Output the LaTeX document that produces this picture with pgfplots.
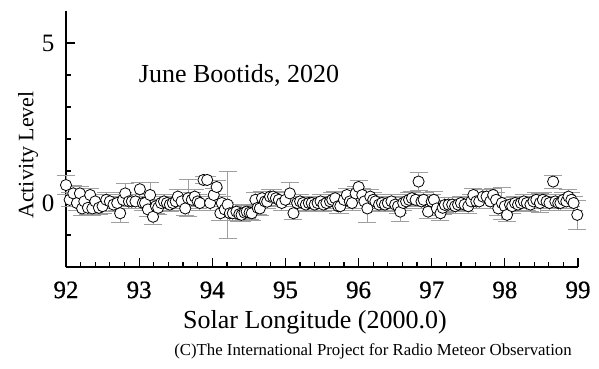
\documentclass[border=0pt]{standalone}
\usepackage{fontspec}
\setmainfont{Liberation Serif}
\newfontfamily\tickfont[FakeBold=0.7]{Liberation Serif}
\usepackage{pgfplots}
\usepackage{pgfplotstable}
\pgfplotsset{compat=1.18}
\pgfplotstableread{
x y e
92.00 0.56 0.30
92.05 0.10 0.22
92.10 0.30 0.25
92.15 0.00 0.22
92.19 0.30 0.22
92.22 -0.17 0.22
92.25 0.05 0.22
92.30 -0.15 0.22
92.33 0.25 0.22
92.36 -0.17 0.22
92.40 0.05 0.22
92.45 -0.15 0.22
92.50 -0.10 0.22
92.55 0.10 0.22
92.60 0.05 0.22
92.65 -0.05 0.22
92.70 0.00 0.22
92.74 -0.32 0.30
92.78 0.10 0.22
92.81 0.30 0.32
92.86 0.05 0.22
92.90 0.05 0.22
92.95 0.05 0.22
93.01 0.43 0.22
93.05 0.00 0.22
93.08 0.00 0.22
93.12 -0.20 0.22
93.15 0.25 0.38
93.19 -0.43 0.25
93.23 -0.10 0.22
93.26 -0.15 0.22
93.30 0.00 0.22
93.34 0.05 0.22
93.38 0.00 0.22
93.42 -0.05 0.22
93.46 0.00 0.22
93.50 0.05 0.22
93.53 0.20 0.22
93.58 0.05 0.22
93.63 -0.17 0.22
93.67 0.15 0.58
93.72 0.10 0.22
93.76 0.20 0.22
93.80 0.05 0.22
93.83 0.00 0.22
93.88 0.72 0.10
93.93 0.72 0.10
93.97 0.00 0.22
94.02 0.25 0.22
94.06 0.50 0.22
94.11 -0.32 0.22
94.13 0.00 0.22
94.17 -0.20 0.22
94.21 -0.05 1.05
94.24 -0.32 0.22
94.28 -0.32 0.22
94.33 -0.27 0.22
94.37 -0.35 0.22
94.40 -0.37 0.22
94.44 -0.30 0.22
94.47 -0.27 0.22
94.51 -0.30 0.22
94.54 -0.32 0.22
94.59 0.10 0.22
94.62 -0.15 0.22
94.65 -0.17 0.22
94.68 0.15 0.22
94.72 0.05 0.22
94.75 0.04 0.22
94.79 0.20 0.22
94.83 0.20 0.22
94.87 0.15 0.22
94.91 0.10 0.22
94.95 0.00 0.22
95.00 0.10 0.22
95.06 0.30 0.35
95.11 -0.32 0.20
95.16 0.00 0.22
95.20 0.05 0.22
95.24 0.00 0.22
95.28 -0.05 0.22
95.32 0.00 0.22
95.36 0.00 0.22
95.40 -0.05 0.22
95.44 0.00 0.22
95.48 0.05 0.22
95.52 -0.05 0.22
95.56 0.00 0.22
95.61 0.05 0.22
95.64 0.10 0.22
95.68 0.15 0.22
95.72 -0.10 0.22
95.75 -0.10 0.22
95.80 0.10 0.22
95.84 0.25 0.22
95.88 0.05 0.22
95.91 0.00 0.22
95.96 0.30 0.22
96.00 0.50 0.22
96.05 0.25 0.22
96.08 0.05 0.22
96.12 -0.17 0.45
96.16 0.20 0.22
96.20 0.10 0.22
96.23 0.05 0.22
96.28 -0.05 0.22
96.32 0.00 0.22
96.36 -0.05 0.22
96.40 0.00 0.22
96.45 0.05 0.22
96.50 -0.05 0.22
96.54 -0.10 0.22
96.57 -0.27 0.30
96.61 0.00 0.22
96.65 0.05 0.22
96.69 0.10 0.22
96.73 0.15 0.22
96.78 0.10 0.22
96.82 0.67 0.27
96.86 0.05 0.22
96.89 0.10 0.22
96.95 -0.27 0.22
97.00 0.05 0.22
97.03 0.10 0.25
97.07 -0.17 0.22
97.12 -0.32 0.22
97.15 -0.15 0.22
97.18 -0.06 0.22
97.23 -0.05 0.22
97.28 -0.05 0.22
97.32 -0.10 0.22
97.36 -0.05 0.22
97.40 0.00 0.22
97.45 -0.05 0.22
97.50 -0.10 0.22
97.54 0.05 0.22
97.57 0.25 0.22
97.61 0.05 0.22
97.65 0.05 0.22
97.70 0.20 0.22
97.75 0.20 0.22
97.80 0.05 0.22
97.84 0.25 0.22
97.88 0.10 0.22
97.91 -0.17 0.22
97.96 0.00 0.50
98.00 -0.10 0.22
98.03 -0.37 0.20
98.07 -0.05 0.22
98.10 -0.10 0.22
98.14 0.00 0.22
98.18 -0.05 0.22
98.22 0.00 0.22
98.26 0.05 0.22
98.30 0.00 0.22
98.35 -0.05 0.22
98.39 0.05 0.22
98.43 0.10 0.22
98.48 0.00 0.30
98.52 0.10 0.22
98.57 0.05 0.22
98.61 0.00 0.22
98.66 0.67 0.20
98.69 0.05 0.22
98.73 0.00 0.22
98.76 0.00 0.22
98.80 0.10 0.22
98.84 0.05 0.22
98.87 0.20 0.22
98.91 0.10 0.22
98.94 0.00 0.22
98.99 -0.37 0.45
}\datatable
\begin{document}
\begin{tikzpicture}
\begin{axis}[
  scale only axis,
  width=512pt, height=256pt,
  xmin=92, xmax=99, ymin=-2, ymax=6,
  axis lines*=left,
  axis line style={line width=1.6pt},
  xtick={92,93,...,99},
  minor x tick num=4,
  ytick={0,5},
  minor ytick={-1,1,2,3,4},
  tick align=inside,
  major tick length=9pt,
  minor tick length=5pt,
  every tick/.style={black, line width=1.2pt},
  xticklabel style={font=\fontsize{25}{25}\tickfont},
  yticklabel style={font=\fontsize{25}{25}\selectfont},
  /pgf/number format/assume math mode=true,
  xticklabel shift=11pt,
  yticklabel shift=8pt,
  clip=false,
]
\addplot[only marks, mark=*, mark size=5.6pt,
  mark options={fill=white, draw=black, line width=0.8pt},
  error bars/.cd, y dir=both, y explicit,
  error bar style={gray!75, line width=0.9pt},
  error mark options={rotate=90, mark size=9pt, gray!75, line width=0.9pt}]
  table[x=x, y=y, y error=e] {\datatable};
\end{axis}
\node[font=\fontsize{26}{26}\selectfont] at (173pt,192pt) {June Bootids, 2020};
\node[font=\fontsize{22}{22}\selectfont, rotate=90] at (-38pt,112pt) {Activity Level};
\node[font=\fontsize{26}{26}\selectfont] at (249pt,-55pt) {Solar Longitude (2000.0)};
\node[font=\fontsize{16.8}{17}\selectfont] at (307pt,-84pt) {(C)The International Project for Radio Meteor Observation};
\path[use as bounding box] (-66pt,-102pt) rectangle (533pt,267pt);
\end{tikzpicture}
\end{document}
